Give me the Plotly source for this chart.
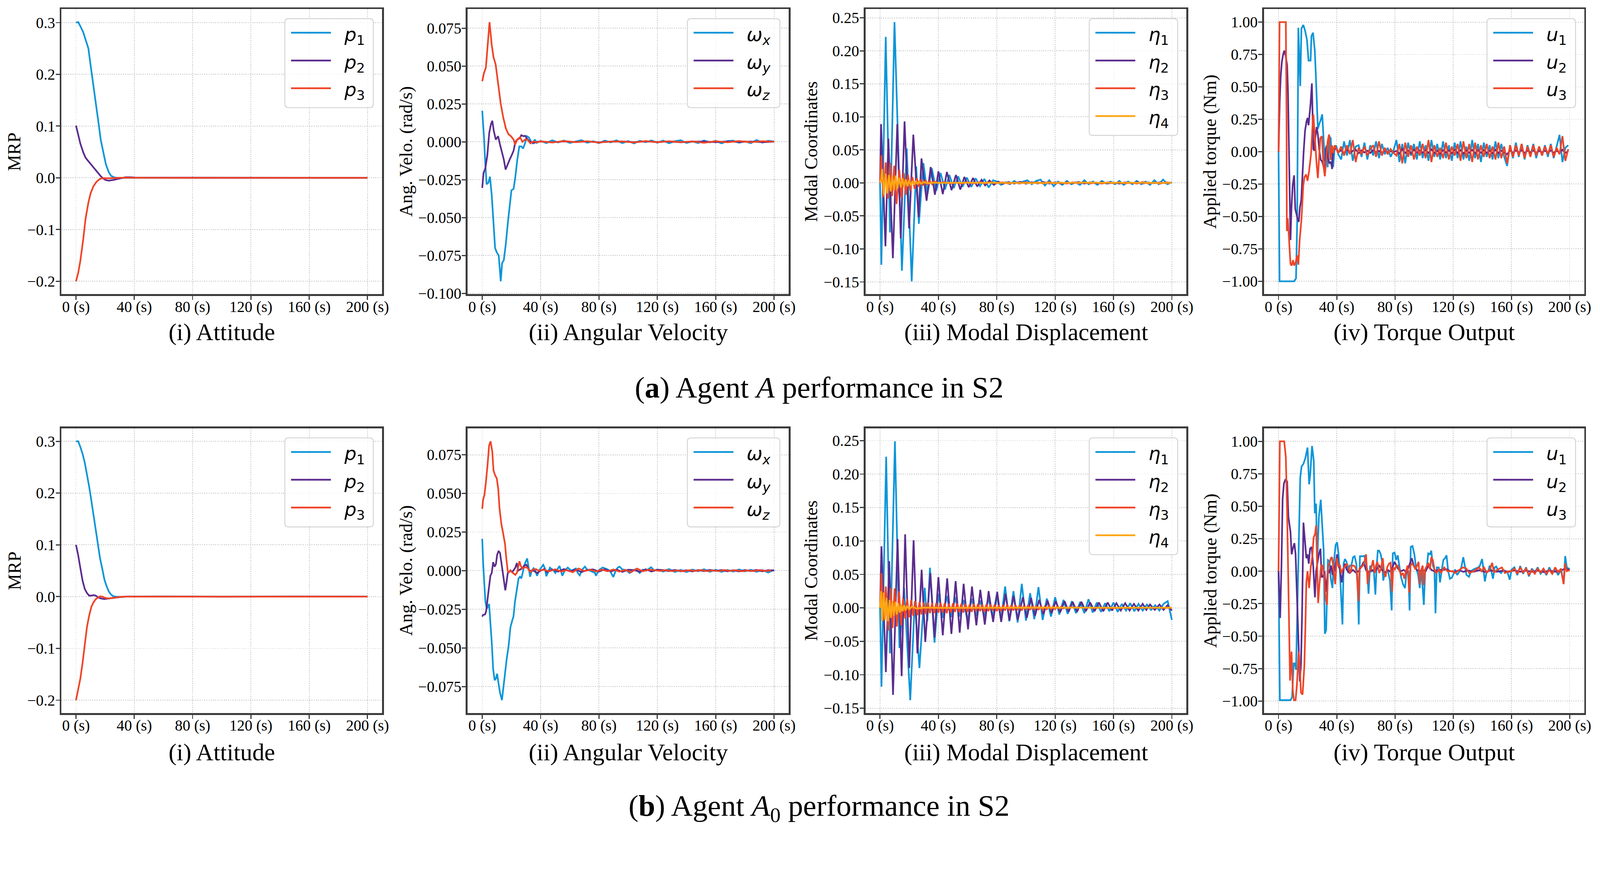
import plotly.graph_objects as go

W, H = 4376, 2274

# line colours used by the original figure
BLUE, PURPLE, RED, ORANGE = "#0d95d8", "#5b2c8e", "#ef4427", "#fda614"
SPINE, GRID = "#3a3a3a", "#c8c8c8"

# ---------------- tick marks ----------------
time_ticks = [0, 40, 80, 120, 160, 200]
mrp_ticks = [-0.2, -0.1, 0.0, 0.1, 0.2, 0.3]
angvel_ticks_a = [-0.1, -0.075, -0.05, -0.025, 0.0, 0.025, 0.05, 0.075]
angvel_ticks_b = [-0.075, -0.05, -0.025, 0.0, 0.025, 0.05, 0.075]
modal_ticks = [-0.15, -0.1, -0.05, 0.0, 0.05, 0.1, 0.15, 0.2, 0.25]
torque_ticks = [-1.0, -0.75, -0.5, -0.25, 0.0, 0.25, 0.5, 0.75, 1.0]

# ================= (a) Agent A =================
# attitude (MRP)
att_a_t = [0, 1.5, 3, 5, 6.5, 8.5, 10, 12, 14, 15.5,
           17, 19, 20.5, 22.5, 24, 26, 28, 31, 34, 37,
           40, 60, 100, 140, 200]
p1_a = [0.300, 0.301, 0.293, 0.281, 0.268, 0.250, 0.218, 0.178, 0.140, 0.105,
        0.073, 0.045, 0.026, 0.011, 0.004, 0.001, 0.0, 0.0, 0.0, 0.0,
        0.0, 0.0, 0.0, 0.0, 0.0]
p2_a = [0.101, 0.084, 0.066, 0.049, 0.039, 0.032, 0.027, 0.020, 0.013, 0.008,
        0.003, -0.002, -0.0045, -0.0055, -0.005, -0.004, -0.0025, -0.0005, 0.001, 0.001,
        0.0005, 0.0003, 0.0003, 0.0002, 0.0002]
p3_a = [-0.200, -0.184, -0.160, -0.118, -0.080, -0.048, -0.030, -0.016, -0.008, -0.004,
        -0.0015, -0.0005, -0.001, -0.0008, -0.0004, 0.0, 0.0002, 0.0003, 0.0003, 0.0002,
        0.0001, 0.0, 0.0, 0.0, 0.0]

# angular velocity
wx_a_t = [0, 1.2, 2.1, 3, 4.2, 5.3, 6.5, 7.7, 8.8, 10,
          11.3, 12.7, 13.6, 14.8, 16.2, 17.6, 18.8, 20, 21.5, 22.7,
          24, 25.4, 26.8, 28, 29.4, 30.6, 32, 33.5, 34.7, 36,
          37.3] + list(range(40, 201, 4))
wx_a = [0.0205, 0.003, -0.0146, -0.028, -0.027, -0.023, -0.035, -0.053, -0.070, -0.073,
        -0.075, -0.092, -0.080, -0.078, -0.067, -0.053, -0.042, -0.032, -0.031, -0.023,
        -0.012, -0.003, -0.003, -0.0044, -0.0007, 0.0037, 0.0029, 0.0, -0.001, 0.0015,
        -0.0007,
        0.0006, -0.0008, 0.0010, -0.0004, 0.0009, -0.0007, 0.0003, 0.0011, -0.0006, 0.0004,
        -0.0009, 0.0008, -0.0003, 0.0010, -0.0008, 0.0005, -0.0010, 0.0007, -0.0002, 0.0009,
        -0.0006, 0.0008, -0.0009, 0.0004, 0.0010, -0.0007, 0.0003, -0.0008, 0.0009, -0.0004,
        0.0007, -0.0010, 0.0005, 0.0008, -0.0006, 0.0003, -0.0009, 0.0012, -0.0005, 0.0007,
        0.0002]
wy_a_t = [0, 0.9, 2.1, 3.5, 4.8, 6, 6.9, 7.9, 9.3, 10.9,
          12.1, 13.6, 14.8, 16, 17.4, 18.8, 20.2, 21.5, 22.7, 24,
          25.5, 26.8, 28.2, 29.4, 30.6, 32, 33.8, 35.6, 37.5] + list(range(40, 201, 8))
wy_a = [-0.0304, -0.0205, -0.0176, -0.0088, 0.006, 0.0117, 0.0139, 0.0073, 0.0015, 0.0037,
        -0.0015, -0.0073, -0.0117, -0.0183, -0.0146, -0.0117, -0.0088, -0.0058, 0.0, 0.0015,
        0.0022, 0.0044, 0.0037, 0.004, 0.0022, 0.0007, -0.0003, -0.0007, 0.0,
        0.0002, -0.0003, 0.0003, -0.0001, 0.0002, -0.0003, 0.0001, 0.0002, -0.0002, 0.0003,
        -0.0001, 0.0002, -0.0003, 0.0001, 0.0002, -0.0002, 0.0003, -0.0001, 0.0002, -0.0002,
        0.0001]
wz_a_t = [0, 1.2, 2.5, 4, 5, 6.5, 7.7, 9.2, 10.9, 12.7,
          14.4, 16.2, 18, 19.7, 21.5, 22.5, 24, 25.9, 27.6, 29.4,
          31, 33, 35, 37.5] + list(range(40, 201, 8))
wz_a = [0.040, 0.0454, 0.049, 0.066, 0.079, 0.064, 0.056, 0.051, 0.038, 0.025,
        0.016, 0.0088, 0.005, 0.0037, 0.0015, -0.0018, 0.0015, 0.003, 0.0, 0.0015,
        0.0015, -0.001, 0.0003, -0.0004,
        0.0003, -0.0004, 0.0005, -0.0002, 0.0004, -0.0005, 0.0002, 0.0003, -0.0004, 0.0005,
        -0.0003, 0.0004, -0.0002, 0.0003, -0.0006, 0.0004, -0.0003, 0.0005, -0.0002, 0.0004,
        0.0001]

# modal coordinates
eta1_a_t = [0, 0.9, 3.9, 6.8, 9.9, 15.0, 18.3, 21.7, 24.8, 26.6,
            29.7, 32.5, 35.5, 38.5, 41.5, 44.5, 47.5, 50.5, 53.5, 56.5,
            59.5, 62.5, 65.5, 68.5, 71.5, 74.5, 77.5] + list(range(80, 201, 3))
eta1_a = [0, -0.124, 0.221, -0.075, 0.2435, -0.133, 0.052, -0.149, 0.025, -0.062,
          0.030, -0.017, 0.022, -0.012, 0.015, -0.010, 0.012, -0.008, 0.010, -0.006,
          0.008, -0.006, 0.007, -0.005, 0.006, -0.007, 0.004,
          0.002, -0.003, 0.001, -0.002, 0.003, -0.001, 0.002, 0.004, -0.002, 0.003,
          0.005, -0.004, 0.004, -0.005, 0.002, -0.003, 0.003, -0.002, 0.001, -0.003,
          0.004, -0.002, 0.002, -0.003, 0.003, -0.001, 0.002, -0.002, 0.003, -0.003,
          0.002, -0.002, 0.003, -0.002, 0.002, -0.003, 0.004, -0.002, 0.005, -0.002,
          0.001]
eta2_a_t = [0, 0.7, 3.7, 5.7, 8.8, 11.8, 14.2, 16.8, 19.9, 22.8,
            26.4, 28.4, 31.9, 34.7, 37.6, 40, 43, 45.8, 49, 52,
            55, 57.8, 60.8, 63.7, 66.6, 69.6, 72, 75, 78, 81] + list(range(84, 201, 4))
eta2_a = [0, 0.089, -0.096, 0.067, -0.114, 0.089, -0.084, 0.093, -0.069, 0.073,
          -0.052, 0.037, -0.027, 0.024, -0.018, 0.0175, -0.017, 0.0166, -0.011, 0.012,
          -0.010, 0.009, -0.0065, 0.0074, -0.0055, 0.0046, -0.0037, 0.0037, -0.003, 0.002,
          -0.0015, 0.0012, -0.001, 0.0015, -0.0012, 0.001, -0.0008, 0.0012, -0.001, 0.0008,
          -0.0012, 0.001, -0.0008, 0.0012, -0.001, 0.0008, -0.0006, 0.001, -0.0008, 0.0006,
          -0.001, 0.0008, -0.0006, 0.001, -0.0008, 0.0006, -0.0005, 0.0008, -0.0006, 0.0004]
eta3_a_t = [0, 0.9, 2.2, 3.9, 5.4, 6.9, 8.3, 9.7, 11.3, 13.2,
            14.7, 16.2, 17.7, 19.2, 20.7, 22.2, 23.7, 25.2, 26.7, 28.2,
            29.7, 31.2, 32.7, 34.2, 35.7, 37.2, 40] + list(range(44, 201, 4))
eta3_a = [0, 0.042, -0.022, 0.031, -0.024, 0.030, -0.020, 0.026, -0.032, 0.020,
          -0.022, 0.015, -0.018, 0.012, -0.012, 0.009, -0.009, 0.007, -0.006, 0.005,
          -0.004, 0.004, -0.003, 0.003, -0.002, 0.002, 0,
          0.001, -0.0008, 0.0006, -0.001, 0.0008, -0.0006, 0.001, -0.0008, 0.0012, -0.0006,
          0.0008, -0.001, 0.0006, -0.0008, 0.001, -0.0006, 0.0008, -0.001, 0.0012, -0.0008,
          0.0006, -0.001, 0.0008, -0.0006, 0.001, -0.0008, 0.0006, -0.001, 0.0008, -0.0006,
          0.001, -0.0008, 0.0006, -0.001, 0.0012, -0.0008, 0.0006, -0.001, 0.0008, 0.0]
eta4_a_t = [0, 0.7, 1.5, 2.7, 3.8, 5.0, 6.1, 7.3, 8.4, 9.6,
            10.7, 11.9, 13.0, 14.2, 15.3, 16.5, 17.6, 18.8, 19.9, 21.1,
            22.2, 23.4, 24.5, 25.7, 26.8, 28, 30, 33, 36, 40,
            60, 100, 150, 200]
eta4_a = [0, 0.004, 0.021, -0.018, 0.014, -0.016, 0.012, -0.013, 0.010, -0.011,
          0.011, -0.009, 0.008, -0.007, 0.007, -0.006, 0.005, -0.005, 0.004, -0.004,
          0.003, -0.003, 0.003, -0.002, 0.002, -0.001, 0.001, -0.0005, 0.0005, 0,
          0.0003, -0.0002, 0.0003, 0.0]

# torque output
u1_a_t = [0, 0.7, 10.7, 12, 12.8, 13.6, 14.9, 15.7, 17, 18.2,
          19.5, 20.6, 22, 22.6, 23.7, 24.9, 25.6, 26.2, 27, 28.1,
          29, 30, 31, 31.8, 32.9, 33.7, 34.8, 35.8, 36.7, 37.5,
          38.5, 39.6] + list(range(41, 200, 2))
u1_a = [0, -1.0, -1.0, -0.978, -0.54, 0.956, 0.506, 0.95, 0.978, 0.935,
        0.865, 0.703, 0.703, 0.893, 0.918, 0.78, 0.598, 0.387, 0.176, 0.218,
        0.246, 0.288, 0.105, -0.077, 0.049, -0.12, 0.12, 0.105, -0.063, -0.12,
        0.021, 0.049,
        -0.02, -0.06, 0.08, -0.03, 0.09, -0.07, 0.04, 0.05, -0.04, 0.07,
        -0.06, 0.05, -0.03, 0.08, -0.05, 0.06, -0.02, 0.03, -0.04, 0.01,
        0.09, -0.08, 0.06, -0.09, 0.07, -0.03, 0.06, -0.06, 0.08, -0.05,
        0.05, -0.07, 0.09, -0.04, 0.06, -0.06, 0.08, -0.05, 0.05, -0.07,
        0.07, -0.05, 0.08, -0.06, 0.04, -0.07, 0.09, -0.05, 0.06, -0.08,
        0.07, -0.04, 0.05, -0.06, 0.08, -0.05, 0.06, -0.04, -0.11, 0.05,
        -0.05, 0.07, -0.04, 0.06, -0.06, 0.05, -0.03, 0.06, -0.05, 0.04,
        -0.03, 0.05, -0.04, 0.06, -0.05, 0.04, 0.13, -0.08, 0.03, 0.05]
u2_a_t = [0, 0.8, 1.5, 2.3, 3.2, 4, 4.9, 5.9, 6.5, 7.2,
          7.8, 8.2, 8.9, 9.7, 10.7, 11.5, 12.4, 13.2, 13.9, 14.7,
          15.6, 16.4, 17.2, 18.2, 19.2, 19.9, 20.6, 21.2, 22, 22.9,
          23.4, 23.9, 24.5, 25.2, 26.2, 27, 27.9, 29, 30, 31,
          31.8, 32.6, 33.5, 34.3, 35, 36, 36.8, 37.5, 39.6] + list(range(41, 200, 2))
u2_a = [0, 0.387, 0.584, 0.696, 0.752, 0.78, 0.738, 0.668, 0.457, -0.035,
        -0.485, -0.682, -0.429, -0.26, -0.183, -0.443, -0.485, -0.527, -0.541, -0.429,
        -0.373, -0.176, -0.007, 0.162, 0.232, 0.26, 0.204, 0.274, 0.373, 0.527,
        0.316, 0.021, 0.007, 0.105, 0.19, 0.134, 0.021, -0.063, -0.077, -0.12,
        -0.148, 0.035, 0.0, -0.063, -0.091, -0.077, -0.134, 0.021, 0.021,
        -0.005, 0.012, -0.010, 0.018, -0.008, 0.006, 0.015, -0.012, 0.010, -0.006,
        0.008, -0.010, 0.012, -0.004, 0.006, -0.008, 0.010, -0.005, 0.004, -0.003,
        0.006, -0.015, 0.020, -0.010, 0.008, -0.012, 0.015, -0.006, 0.010, -0.008,
        0.012, -0.010, 0.018, -0.012, 0.008, -0.015, 0.012, -0.006, 0.010, -0.012,
        0.015, -0.010, 0.012, -0.015, 0.010, -0.008, 0.014, -0.012, 0.010, -0.008,
        0.012, -0.010, 0.008, -0.012, 0.015, -0.010, 0.008, -0.006, -0.020, 0.010,
        -0.008, 0.010, -0.006, 0.012, -0.010, 0.008, -0.006, 0.010, -0.008, 0.006,
        -0.005, 0.008, -0.006, 0.010, -0.008, 0.006, -0.005, 0.015, -0.010, 0.005]
u3_a_t = [0, 0.7, 5, 5.5, 5.7, 6.3, 6.8, 7.4, 8.2, 9,
          9.9, 10.7, 11.8, 12.8, 13.6, 14.5, 15.7, 17, 17.8, 18.9,
          19.9, 21, 22.3, 23.3, 23.9, 24.5, 25.4, 26.2, 27, 27.9,
          28.7, 29.8, 30.8, 31.8, 32.9, 33.7, 34.7, 35.6, 36.7, 37.5,
          38.5, 39.6] + list(range(41, 200, 2))
u3_a = [0, 1.0, 1.0, 0.246, -0.612, -0.513, -0.598, -0.738, -0.865, -0.879,
        -0.837, -0.879, -0.851, -0.80, -0.872, -0.682, -0.527, -0.26, -0.197, -0.176,
        -0.225, -0.148, -0.021, 0.19, 0.288, 0.19, 0.007, -0.105, -0.204, -0.063,
        0.105, 0.12, -0.105, -0.19, -0.035, 0.077, 0.133, -0.063, 0.049, -0.01,
        0.049, 0.02,
        -0.01, 0.04, -0.03, 0.05, -0.02, 0.09, -0.08, 0.03, -0.02, 0.04,
        -0.03, 0.02, 0.05, -0.04, 0.08, -0.03, 0.03, -0.02, 0.02, -0.01,
        -0.03, 0.06, -0.09, 0.07, -0.04, 0.05, -0.06, 0.04, -0.03, 0.06,
        -0.05, 0.09, -0.08, 0.05, -0.04, 0.03, -0.05, 0.07, -0.06, 0.04,
        -0.03, 0.06, -0.07, 0.08, -0.05, 0.06, -0.08, 0.07, -0.06, 0.05,
        -0.04, 0.06, -0.05, 0.04, -0.06, 0.07, -0.05, 0.04, -0.09, 0.05,
        -0.04, 0.05, -0.03, 0.06, -0.05, 0.04, -0.04, 0.05, -0.03, 0.04,
        -0.03, 0.04, -0.02, 0.05, -0.04, 0.03, -0.02, 0.12, -0.07, 0.02]

# ================= (b) Agent A0 =================
att_b_t = [0, 1.5, 3, 4.5, 6, 7.5, 9, 10.5, 12, 13.5,
           15, 16.5, 18, 19.5, 21, 22.5, 24, 25.5, 27, 29,
           31, 34, 37, 40, 60, 100, 150, 200]
p1_b = [0.300, 0.300, 0.289, 0.276, 0.259, 0.237, 0.213, 0.186, 0.157, 0.129,
        0.102, 0.074, 0.054, 0.033, 0.020, 0.010, 0.004, 0.001, 0.0, -0.0005,
        -0.0005, 0.0, 0.0, 0.0, 0.0, 0.0, 0.0, 0.0]
p2_b = [0.100, 0.080, 0.055, 0.031, 0.015, 0.007, 0.002, 0.002, 0.003, 0.002,
        -0.001, -0.003, -0.004, -0.0046, -0.0042, -0.0036, -0.003, -0.0025, -0.0018, -0.001,
        -0.0005, 0.0, 0.0003, 0.0, 0.0002, -0.0002, 0.0002, 0.0]
p3_b = [-0.200, -0.180, -0.158, -0.128, -0.090, -0.059, -0.037, -0.020, -0.011, -0.005,
        -0.002, 0.0005, 0.0, -0.002, -0.003, -0.0035, -0.003, -0.0025, -0.0015, -0.0008,
        -0.0003, 0.0, 0.0, 0.0, 0.0, 0.0, 0.0, 0.0]

wx_b_t = [0, 0.6, 1.5, 2.2, 3.1, 4, 4.7, 5.6, 6.5, 7.5,
          8.5, 9.4, 10.2, 11.2, 12.2, 13.5, 14.3, 15.6, 16.8, 18.1,
          19.3, 20.6, 21.4, 22.4, 23.7, 24.9, 25.9, 26.8, 27.7, 28.7,
          29.9, 30.8, 31.8, 32.8, 33.9, 35.2, 36.4, 37.6, 38.9, 40.1,
          41.8, 43, 43.9, 44.9, 46.4, 48.9, 50.1, 51.4, 53, 54.9,
          56.5, 58.6, 61, 64.2, 65.5, 66.8, 68.6, 70.4, 72, 73.8,
          77.3, 77.9, 80, 82.5, 85, 87.5, 89.8, 91.5, 92.9, 94.1,
          96, 98.5, 101, 103, 104.7, 106.5, 107.9, 110, 112.5, 115.7,
          118] + list(range(120, 201, 4))
wx_b = [0.0206, 0.0055, -0.0098, -0.0203, -0.0244, -0.0233, -0.0215, -0.0333, -0.0462, -0.0638,
        -0.0709, -0.0697, -0.0667, -0.0732, -0.0791, -0.0838, -0.0767, -0.0662, -0.0568, -0.0485,
        -0.0368, -0.0321, -0.0297, -0.0203, -0.0121, -0.005, -0.0039, -0.005, -0.0015, 0.0032,
        0.0061, 0.0079, 0.002, -0.0039, 0.0, 0.0016, 0.0, -0.0033, 0.0, 0.0014,
        0.0038, 0.0014, -0.0036, -0.0015, 0.002, 0.0, -0.0015, 0.0008, 0.003, -0.0033,
        0.0, 0.002, 0.0, 0.0014, -0.0015, -0.003, 0.0008, 0.0026, 0.0006, 0.0,
        -0.0015, -0.0033, 0.0004, 0.002, 0.0012, 0.0, -0.0041, 0.0, 0.002, 0.0026,
        0.0008, 0.0004, -0.0015, 0.0002, 0.0008, 0.0, -0.0015, 0.0006, 0.0, 0.0022,
        0.0,
        0.0008, -0.0006, 0.0010, -0.0008, 0.0005, -0.0009, 0.0007, -0.0004, 0.0009, -0.0007,
        0.0006, -0.0008, 0.0005, -0.0006, 0.0008, -0.0005, 0.0006, -0.0007, 0.0004, -0.0012,
        0.0005]
wy_b_t = [0, 0.6, 1.9, 2.7, 3.7, 4.7, 5.6, 6.5, 7.5, 8.5,
          9.4, 10.2, 11.2, 12.2, 13.1, 14, 15, 15.8, 16.5, 17.5,
          18.5, 19.3, 20.6, 22.7, 23.7, 24.7, 25.9, 27.4, 28.9, 30.2,
          31.2, 32.4, 35.2, 37.6, 40, 42.4, 44.3] + list(range(48, 201, 4))
wy_b = [-0.0297, -0.0286, -0.0283, -0.0262, -0.018, -0.0109, -0.0033, -0.0015, 0.0055, 0.0026,
        0.0043, 0.0102, 0.0128, 0.0114, 0.0055, -0.0015, -0.0086, -0.0127, -0.0086, -0.0015,
        -0.0009, 0.0002, -0.0009, 0.002, 0.0049, 0.0, 0.0008, 0.0014, 0.0034, 0.0038,
        0.002, 0.0, 0.0, -0.0015, 0.0, 0.001, -0.0009,
        0.0008, -0.0006, 0.0010, -0.0004, 0.0007, -0.0009, 0.0005, 0.0008, -0.0006, 0.0009,
        -0.0005, 0.0007, -0.0008, 0.0006, 0.0004, -0.0007, 0.0009, -0.0005, 0.0006,
        0.0004, -0.0003, 0.0005, -0.0004, 0.0003, -0.0005, 0.0004, -0.0003, 0.0005, -0.0002,
        0.0004, -0.0004, 0.0003, -0.0005, 0.0004, -0.0003, 0.0005, -0.0004, 0.0003, 0.0001]
wz_b_t = [0, 0.6, 1.5, 2.5, 3.7, 4.7, 5.7, 6.9, 7.7, 8.7,
          10, 11, 11.8, 13.1, 14.3, 15.6, 16.5, 17.5, 18, 19.3,
          21, 22.7, 23.9, 24.9, 25.5, 26.4, 27.4, 28.7, 30.2, 31.4,
          33, 34.9, 36.8, 38.7] + list(range(42, 115, 4)) + list(range(118, 201, 4))
wz_b = [0.040, 0.046, 0.049, 0.057, 0.069, 0.081, 0.0837, 0.077, 0.065, 0.062,
        0.0596, 0.0525, 0.0408, 0.0302, 0.0243, 0.0173, 0.0079, -0.0004, -0.001, 0.0,
        -0.0015, -0.0027, -0.001, 0.0032, 0.0061, 0.0032, 0.0014, 0.002, 0.0022, 0.0014,
        -0.0009, 0.0008, 0.001, 0.0,
        0.0006, -0.0004, 0.0009, -0.0006, 0.0004, -0.0010, 0.0014, -0.0003, 0.0006, -0.0005,
        0.0007, -0.0004, 0.0008, -0.0006, 0.0005, -0.0010, 0.0014, -0.0004, 0.0006,
        0.0003, -0.0002, 0.0004, -0.0003, 0.0002, -0.0004, 0.0003, -0.0002, 0.0004, -0.0003,
        0.0002, -0.0003, 0.0004, -0.0002, 0.0003, -0.0004, 0.0002, -0.0003, 0.0004, -0.0002,
        0.0001]

eta1_b_t = [0, 1, 4.2, 6.8, 10.2, 13.3, 16.5, 20.7, 23.8, 27,
            30.6, 32.4, 34.2, 37.3] + [40 + 20 * i / 7 for i in range(57)]
eta1_b = [0, -0.118, 0.226, -0.068, 0.249, -0.06, 0.03, -0.138, 0.01, -0.09,
          0.03, -0.02, 0.06, -0.052,
          0.021, -0.015, 0.018, -0.014, 0.016, -0.013, 0.012, -0.02, 0.014, -0.012,
          0.011, -0.013, 0.015, -0.015, 0.02, -0.018, 0.032, -0.02, 0.025, -0.022,
          0.036, -0.019, 0.022, -0.017, 0.031, -0.018, 0.014, -0.013, 0.016, -0.010,
          0.012, -0.009, 0.010, -0.008, 0.009, -0.008, 0.013, -0.007, 0.008, -0.006,
          0.007, -0.005, 0.008, -0.006, 0.006, -0.004, 0.007, -0.005, 0.006, -0.004,
          0.005, -0.003, 0.004, -0.004, 0.006, 0.010, -0.018]
eta2_b_t = [0, 1, 4, 6.3, 8.9, 12, 14.8, 17.2, 20, 23,
            25.6, 28.5, 31, 34.5, 37.3, 40, 43, 46, 48.9, 51.8,
            54.6, 57.3, 60.3, 63, 66, 68.7, 71.8, 74.4, 77.5, 80.3,
            83, 86, 88.7, 91.5, 94.4, 97.9, 100.6, 103.5, 106.2, 109,
            112, 114.8, 117.6, 120.4, 123.4, 126.5, 129.2, 132, 135, 138,
            141, 144, 147, 150, 153, 156, 159, 162, 165, 168,
            171, 174, 177, 180, 182.5, 185, 188.3, 191.5, 194.3, 197,
            200]
eta2_b = [0, 0.092, -0.096, 0.07, -0.13, 0.103, -0.102, 0.11, -0.09, 0.101,
          -0.068, 0.057, -0.051, 0.052, -0.044, 0.046, -0.041, 0.044, -0.039, 0.040,
          -0.037, 0.036, -0.032, 0.032, -0.026, 0.027, -0.025, 0.025, -0.021, 0.024,
          -0.021, 0.021, -0.019, 0.018, -0.018, 0.016, -0.015, 0.015, -0.012, 0.012,
          -0.0094, 0.011, -0.008, 0.010, -0.0067, 0.010, -0.006, 0.009, -0.006, 0.009,
          -0.005, 0.008, -0.005, 0.008, -0.005, 0.008, -0.004, 0.007, -0.004, 0.007,
          -0.004, 0.006, -0.004, 0.006, -0.003, 0.005, -0.003, 0.005, -0.003, 0.004,
          -0.004]
eta3_b_t = [0, 1, 2.1, 4, 5.6, 7.2, 8.6, 10, 11.5, 13,
            14.4, 15.8, 17.2, 18.6, 20, 21.4, 22.8, 24.3, 25.7, 27.1,
            28.5, 30, 31.4, 32.8, 34.2, 35.7, 37.1, 38.5] + \
           [40 + 10 * i / 7 for i in range(64)] + [140, 160, 180, 200]
eta3_b = [0, 0.052, -0.018, 0.032, -0.034, 0.030, -0.030, 0.029, -0.028, 0.025,
          -0.026, 0.014, -0.016, 0.013, -0.014, 0.012, -0.012, 0.010, -0.011, 0.009,
          -0.010, 0.008, -0.009, 0.008, -0.008, 0.007, -0.008, 0.007,
          -0.007, 0.008, -0.007, 0.007, -0.008, 0.006, -0.007, 0.007, -0.006, 0.007,
          -0.006, 0.006, -0.007, 0.006, -0.006, 0.005, -0.006, 0.006, -0.005, 0.006,
          -0.005, 0.005, -0.006, 0.005, -0.005, 0.005, -0.004, 0.005, -0.005, 0.004,
          -0.005, 0.004, -0.004, 0.005, -0.004, 0.004, -0.004, 0.004, -0.003, 0.004,
          -0.004, 0.003, -0.003, 0.004, -0.003, 0.003, -0.003, 0.003, -0.003, 0.002,
          -0.003, 0.002, -0.002, 0.003, -0.002, 0.002, -0.002, 0.002, -0.001, 0.002,
          -0.001, 0.001, -0.001, 0.001,
          0.0003, -0.0002, 0.0003, 0.0]
eta4_b_t = [0, 0.7, 1.5, 2.5, 3.5, 4.5, 5.5, 6.5, 7.5, 8.5,
            9.5, 10.5, 11.5, 12.5, 13.5, 14.5, 15.5, 16.5, 17.5, 18.5,
            20, 22, 25, 30, 40, 60, 100, 150, 200]
eta4_b = [0, 0.025, -0.02, 0.023, -0.018, 0.015, -0.02, 0.012, -0.015, 0.010,
          -0.012, 0.009, -0.010, 0.007, -0.007, 0.005, -0.005, 0.004, -0.004, 0.003,
          -0.002, 0.002, -0.001, 0.0005, 0.0, 0.0003, 0.0003, 0.0003, 0.0003]

u1_b_t = [0, 0.9, 8.2, 9.3, 10.4, 11.3, 12, 14.9, 15.8, 17.1,
          18.4, 19.9, 21, 21.8, 23, 24.2, 24.9, 25.8, 26.5, 27.7,
          29, 29.9, 31, 31.8, 32.7, 33.9, 35, 35.9, 37, 37.8,
          39.2, 40.2, 41.1, 42.2, 43, 43.9, 44.7, 45.6, 46.7, 47.8,
          48.9, 50, 51.2, 52.3, 53.4, 54.2, 55.1, 55.9, 57.3, 59,
          60.1, 60.9, 61.8, 62.9, 64, 65.4, 66.5, 67.4, 68.2, 69.1,
          70.2, 71.1, 71.9, 73, 75.2, 76.5, 77.7, 78.5, 79.7, 80.8,
          81.9, 83, 84.1, 85.5, 86.9, 88, 89.2, 90, 90.8, 92,
          93.3, 94.4, 95.9, 97, 98.1, 99.8, 100.7, 101.7, 102.8, 104,
          104.9, 106, 107.1, 107.8, 108.7, 110, 110.9, 112, 113.2, 114.3,
          115.4, 116.5, 117.7, 119, 119.9, 121.2, 122.7, 124.4, 125.5, 126.9,
          128, 129.1, 130.8, 132.2, 133.9, 135.5, 137.2, 138.3, 139.8, 140.9,
          141.7, 142.8, 144, 145, 146.2, 147.3, 148.4, 149.5, 151.2, 152.9,
          154.5, 155.6, 157.3, 158.8, 160.1, 162, 164, 166, 168, 170,
          172, 174, 176, 178, 180, 182, 184, 186, 188, 190,
          192, 194, 195.8, 196.9, 198, 200]
u1_b = [0, -0.993, -0.993, -0.97, -0.71, -0.71, -0.76, 0.72, 0.806, 0.827,
        0.87, 0.952, 0.669, 0.748, 0.964, 0.849, 0.446, 0.521, 0.05, 0.417,
        0.55, 0.345, 0.158, -0.482, -0.453, 0.086, 0.079, -0.058, -0.13, 0.043,
        0.201, 0.223, 0.144, -0.014, -0.216, -0.41, 0.058, 0.094, 0.072, -0.014,
        0.043, 0.043, 0.108, 0.115, 0.058, -0.058, -0.41, 0.115, 0.115, 0.118,
        0.058, 0.014, -0.173, 0.043, 0.0, 0.014, -0.18, 0.043, 0.158, 0.158,
        0.13, 0.072, -0.072, -0.014, 0.0, -0.072, -0.302, 0.137, 0.144, 0.086,
        0.122, 0.043, -0.043, -0.1, -0.13, 0.014, 0.0, -0.302, 0.187, 0.194,
        0.13, 0.029, -0.029, -0.13, 0.014, -0.259, 0.0, 0.014, 0.137, 0.13,
        0.158, 0.043, 0.014, -0.324, 0.029, 0.029, -0.086, 0.0, 0.086, 0.1,
        0.122, 0.0, -0.058, -0.05, -0.029, 0.014, -0.029, 0.0, 0.029, 0.108,
        0.043, -0.029, -0.043, 0.0, 0.014, 0.022, 0.029, 0.043, 0.094, 0.0,
        -0.079, -0.014, 0.0, 0.043, 0.0, -0.058, 0.029, 0.036, 0.0, -0.014,
        0.01, 0.0, -0.01, -0.065, 0.014, 0.03, -0.03, 0.04, -0.02, 0.03,
        -0.04, 0.02, -0.01, 0.03, -0.02, 0.01, -0.03, 0.03, -0.02, 0.02,
        -0.03, 0.01, -0.09, 0.116, 0.03, 0.014]
u2_b_t = [0, 1.1, 2, 2.8, 3.7, 4.8, 5.9, 6.8, 8.2, 9,
          9.8, 10.9, 11.7, 12.6, 13.8, 14.6, 15.4, 16.2, 17.1, 18.2,
          19.1, 19.9, 20.8, 21.6, 22.7, 23.8, 25, 25.8, 26.6, 27.7,
          28.8, 29.6, 30.5, 31.6, 32.5, 33.3, 34.1, 35, 36.1, 37.2,
          38.3, 39.4, 40.2, 41.1, 42.2, 43.4, 44.5, 45.6, 46.7, 48.9,
          51, 53, 55, 57.3, 58.4, 60, 62, 64, 66, 69.1,
          71, 73, 75, 77, 79.7, 82, 84, 86, 88, 89.7,
          91.5, 93, 95, 97, 99, 101, 103, 105, 107, 110,
          113, 115.4, 118, 121, 124, 127, 130, 134, 138, 142,
          146, 150, 154, 158, 162, 166, 170, 174, 178, 182,
          186, 190, 194, 197, 200]
u2_b = [0, -0.36, 0.043, 0.561, 0.676, 0.708, 0.691, 0.417, 0.302, 0.13,
        0.173, 0.216, 0.13, -0.158, -0.59, -0.849, -0.719, -0.302, 0.374, 0.201,
        0.1, 0.13, 0.058, 0.173, 0.187, 0.043, -0.201, 0.0, 0.058, 0.13,
        0.173, -0.043, -0.043, 0.0, -0.158, -0.058, 0.014, -0.014, 0.043, -0.029,
        0.0, 0.072, 0.13, 0.043, 0.014, -0.086, 0.0, 0.058, 0.014, -0.014,
        0.01, -0.01, 0.0, 0.043, 0.072, 0.01, -0.01, 0.01, -0.005, 0.043,
        0.01, -0.01, 0.01, -0.005, 0.072, 0.02, 0.0, 0.01, -0.01, 0.043,
        0.1, 0.04, 0.01, 0.0, 0.01, 0.0, 0.043, 0.01, 0.0, 0.01,
        0.01, 0.015, 0.0, -0.005, 0.008, -0.005, 0.006, -0.004, 0.008, -0.006,
        0.006, -0.004, 0.005, -0.005, 0.006, -0.004, 0.005, -0.005, 0.004, -0.006,
        0.005, -0.004, 0.006, 0.02, 0.01]
u3_b_t = [0, 0.9, 3.9, 5, 5.9, 7, 7.9, 8.9, 9.8, 10.6,
          11.7, 12.6, 13.8, 14.6, 15.4, 16.5, 17.7, 18.4, 19.1, 19.9,
          21, 22.1, 23.2, 24.1, 25.1, 25.8, 26.6, 27.2, 28, 29.2,
          30.3, 31.4, 32.2, 33.3, 34.1, 35, 35.9, 36.7, 37.8, 38.9,
          40, 41.1, 42.2, 43, 44.1, 46.1, 47, 48.4, 49.3, 50.4,
          51.7, 52.8, 53.7, 54.9, 55.6, 56.8, 57.9, 59, 60.1, 61.2,
          62.3, 63.5, 64.9, 66, 66.9, 67.9, 69.1, 70.2, 71.6, 72.5,
          73.5, 74.6, 75.8, 76.9, 78, 78.8, 79.9, 81, 81.9, 83.2,
          84.4, 85.5, 86.4, 87.5, 88.6, 89.8, 90.6, 91.7, 92.8, 94,
          95.1, 96.2, 97, 98.1, 99, 99.8, 100.7, 101.8, 102.9, 104,
          104.9, 106, 107.1, 108.3, 110.4, 111.5, 113.8, 116, 119.9, 121.2,
          124, 126.6, 128.8, 131, 134, 137.8, 139.5, 141.1, 143, 145,
          146.7, 148, 150, 153.4, 155.5, 158, 160, 162, 164, 166,
          168, 170, 172, 174, 176, 178, 180, 182, 184, 186,
          188, 190, 192, 194, 195.8, 196.9, 198, 200]
u3_b = [0, 1.0, 1.0, 0.878, 0.446, -0.302, -0.842, -0.619, -0.921, -0.993,
        -0.993, -0.878, -0.619, -0.734, -0.935, -0.95, -0.734, -0.446, -0.086, 0.0,
        -0.13, 0.029, 0.115, 0.259, 0.288, 0.353, -0.014, -0.245, -0.115, 0.043,
        0.043, -0.043, -0.201, -0.259, 0.043, 0.058, 0.1, 0.108, 0.014, -0.1,
        0.1, 0.043, 0.043, -0.014, 0.014, 0.043, 0.058, 0.014, -0.014, 0.043,
        0.043, 0.029, -0.014, -0.23, 0.022, 0.029, 0.043, 0.072, 0.13, -0.1,
        0.0, 0.014, 0.086, -0.014, 0.043, 0.072, -0.014, 0.014, 0.1, -0.014,
        -0.043, 0.029, 0.058, 0.065, -0.158, 0.029, 0.014, 0.043, 0.043, 0.0,
        -0.029, -0.014, -0.058, 0.0, 0.043, -0.165, 0.043, 0.058, 0.043, 0.014,
        0.043, 0.072, -0.1, 0.014, 0.043, -0.108, 0.014, 0.043, 0.065, 0.014,
        0.108, 0.086, 0.014, -0.014, 0.014, -0.014, 0.029, 0.0, 0.0, -0.014,
        0.01, 0.029, 0.022, -0.014, 0.0, 0.029, 0.0, 0.029, -0.01, 0.01,
        0.065, -0.01, 0.01, 0.029, -0.014, 0.0, 0.0, 0.02, -0.02, 0.03,
        -0.01, 0.02, -0.03, 0.01, -0.02, 0.02, -0.01, 0.02, -0.02, 0.01,
        -0.02, 0.03, -0.01, 0.02, -0.1, 0.06, 0.0, 0.01]

# ---------------- panel description ----------------
P_LBL = ["<i>p</i><sub>1</sub>", "<i>p</i><sub>2</sub>", "<i>p</i><sub>3</sub>"]
W_LBL = ["<i>ω</i><sub><i>x</i></sub>", "<i>ω</i><sub><i>y</i></sub>", "<i>ω</i><sub><i>z</i></sub>"]
E_LBL = ["<i>η</i><sub>%d</sub>" % k for k in (1, 2, 3, 4)]
U_LBL = ["<i>u</i><sub>%d</sub>" % k for k in (1, 2, 3)]
COLS = [BLUE, PURPLE, RED, ORANGE]

panels = [
    # row (a)
    dict(ylabel="MRP", title="(i) Attitude", ticks=mrp_ticks, dec=1, labels=P_LBL, lw=242,
         series=[(att_a_t, p1_a), (att_a_t, p2_a), (att_a_t, p3_a)]),
    dict(ylabel="Ang. Velo. (rad/s)", title="(ii) Angular Velocity", ticks=angvel_ticks_a, dec=3,
         labels=W_LBL, lw=253, series=[(wx_a_t, wx_a), (wy_a_t, wy_a), (wz_a_t, wz_a)]),
    dict(ylabel="Modal Coordinates", title="(iii) Modal Displacement", ticks=modal_ticks, dec=2,
         labels=E_LBL, lw=242,
         series=[(eta1_a_t, eta1_a), (eta2_a_t, eta2_a), (eta3_a_t, eta3_a), (eta4_a_t, eta4_a)]),
    dict(ylabel="Applied torque (Nm)", title="(iv) Torque Output", ticks=torque_ticks, dec=2,
         labels=U_LBL, lw=242, series=[(u1_a_t, u1_a), (u2_a_t, u2_a), (u3_a_t, u3_a)]),
    # row (b)
    dict(ylabel="MRP", title="(i) Attitude", ticks=mrp_ticks, dec=1, labels=P_LBL, lw=242,
         series=[(att_b_t, p1_b), (att_b_t, p2_b), (att_b_t, p3_b)]),
    dict(ylabel="Ang. Velo. (rad/s)", title="(ii) Angular Velocity", ticks=angvel_ticks_b, dec=3,
         labels=W_LBL, lw=253, series=[(wx_b_t, wx_b), (wy_b_t, wy_b), (wz_b_t, wz_b)]),
    dict(ylabel="Modal Coordinates", title="(iii) Modal Displacement", ticks=modal_ticks, dec=2,
         labels=E_LBL, lw=242,
         series=[(eta1_b_t, eta1_b), (eta2_b_t, eta2_b), (eta3_b_t, eta3_b), (eta4_b_t, eta4_b)]),
    dict(ylabel="Applied torque (Nm)", title="(iv) Torque Output", ticks=torque_ticks, dec=2,
         labels=U_LBL, lw=242, series=[(u1_b_t, u1_b), (u2_b_t, u2_b), (u3_b_t, u3_b)]),
]

captions = ["(<b>a</b>) Agent <i>A</i> performance in S2",
            "(<b>b</b>) Agent <i>A</i><sub>0</sub> performance in S2"]

# pixel boxes of the axes (left, right) per column and (top, bottom) per row
col_px = [(168, 1045), (1279, 2157), (2367, 3245), (3457, 4333)]
row_px = [(25, 805), (1172, 1951)]
ylabel_x = [39, 1110, 2218, 3309]
title_y = [909, 2058]
caption_y = [1060, 2210]

SERIF = "Liberation Serif"


def fx(px):
    return px / W


def fy(py):
    return 1 - py / H


def fmt(v, d):
    return f"{v:.{d}f}".replace("-", "\u2212")


def rounded_box(x0, y0, x1, y1, r):
    def P(x, y):
        return f"{fx(x):.6f},{fy(y):.6f}"
    return (f"M{P(x0 + r, y0)} L{P(x1 - r, y0)} Q{P(x1, y0)} {P(x1, y0 + r)} "
            f"L{P(x1, y1 - r)} Q{P(x1, y1)} {P(x1 - r, y1)} L{P(x0 + r, y1)} "
            f"Q{P(x0, y1)} {P(x0, y1 - r)} L{P(x0, y0 + r)} Q{P(x0, y0)} {P(x0 + r, y0)} Z")


def note(x, y, text, size, family=SERIF, **kw):
    d = dict(x=fx(x), y=fy(y), xref="paper", yref="paper", text=text, showarrow=False,
             xanchor="center", yanchor="middle",
             font=dict(family=family, size=size, color="black"))
    d.update(kw)
    return d


fig = go.Figure()
layout = dict(width=W, height=H, margin=dict(l=0, r=0, t=0, b=0, pad=0), autosize=False,
              paper_bgcolor="white", plot_bgcolor="white", showlegend=False,
              font=dict(family=SERIF, color="black"))
shapes, annotations = [], []

for k, pnl in enumerate(panels):
    row, col = divmod(k, 4)
    n = k + 1
    sx = "" if n == 1 else str(n)
    (x0, x1), (y0, y1) = col_px[col], row_px[row]

    all_y = []
    for (t, y), c in zip(pnl["series"], COLS):
        assert len(t) == len(y), (k, len(t), len(y))
        all_y += y
        fig.add_trace(go.Scatter(x=t, y=y, mode="lines", line=dict(color=c, width=4.6),
                                 xaxis="x" + sx, yaxis="y" + sx, hoverinfo="skip"))
    lo, hi = min(all_y), max(all_y)
    pad = 0.05 * (hi - lo)

    common = dict(ticks="outside", ticklen=11, tickwidth=2.5, tickcolor=SPINE,
                  showline=True, linewidth=4.5, linecolor=SPINE, mirror=True,
                  showgrid=True, gridcolor=GRID, griddash="dot", gridwidth=2,
                  zeroline=False, automargin=False,
                  tickfont=dict(family=SERIF, size=42, color="black"))
    layout["xaxis" + sx] = dict(domain=[fx(x0), fx(x1)], anchor="y" + sx, range=[-10, 210],
                                tickvals=time_ticks, ticktext=[f"{v} (s)" for v in time_ticks],
                                ticklabelstandoff=-18, **common)
    layout["yaxis" + sx] = dict(domain=[fy(y1), fy(y0)], anchor="x" + sx,
                                range=[lo - pad, hi + pad], tickvals=pnl["ticks"],
                                ticktext=[fmt(v, pnl["dec"]) for v in pnl["ticks"]],
                                ticklabelstandoff=-7, **common)

    # axis label and sub-caption
    annotations.append(note(ylabel_x[col], (y0 + y1) / 2, pnl["ylabel"], 50, textangle=-90))
    annotations.append(note((x0 + x1) / 2, title_y[row], pnl["title"], 66))

    # legend box in the upper right corner
    nitems = len(pnl["series"])
    bx1 = x1 - 24
    bx0 = bx1 - pnl["lw"]
    by0 = y0 + 26
    by1 = by0 + 38.5 + (nitems - 1) * 76 + 53
    shapes.append(dict(type="path", path=rounded_box(bx0, by0, bx1, by1, 10),
                       xref="paper", yref="paper", layer="above",
                       fillcolor="rgba(255,255,255,0.8)", line=dict(color="#d4d4d4", width=2.5)))
    for i, (lbl, c) in enumerate(zip(pnl["labels"], COLS)):
        ly = by0 + 38.5 + i * 76
        shapes.append(dict(type="line", xref="paper", yref="paper", layer="above",
                           x0=fx(bx0 + 17), x1=fx(bx0 + 126), y0=fy(ly), y1=fy(ly),
                           line=dict(color=c, width=4.8)))
        annotations.append(note(bx0 + 160, ly + 8, lbl, 52, family="DejaVu Sans",
                                xanchor="left"))

for r in range(2):
    annotations.append(note(2240, caption_y[r], captions[r], 82))

layout["shapes"] = shapes
layout["annotations"] = annotations
fig.update_layout(**layout)

# fit the fixed-size figure into the width of whatever viewport the page gets
fit_js = (
    "document.documentElement.style.margin='0';"
    "document.body.style.margin='0';document.body.style.overflow='hidden';"
    "var gd=document.getElementById('{plot_id}');"
    "var s=Math.min(1, window.innerWidth/%d);"
    "var wrap=gd.parentElement;"
    "wrap.style.width=(%d*s)+'px';wrap.style.height=(%d*s)+'px';wrap.style.overflow='hidden';"
    "gd.style.transformOrigin='0 0';gd.style.transform='scale('+s+')';"
) % (W, W, H)
fig.write_html("out.html", post_script=fit_js, config={"displayModeBar": False})
